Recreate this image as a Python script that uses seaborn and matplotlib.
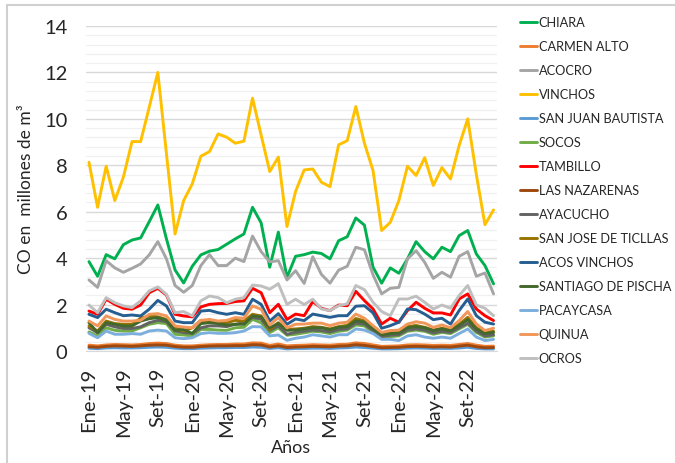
import numpy as np
import pandas as pd
import seaborn as sns
import matplotlib.pyplot as plt
from matplotlib.ticker import MultipleLocator
from matplotlib.patches import Rectangle

# --- months (Ene-19 .. Dic-22)
meses = ['Ene', 'Feb', 'Mar', 'Abr', 'May', 'Jun', 'Jul', 'Ago', 'Set', 'Oct', 'Nov', 'Dic']
periodos = [f'{m}-{a}' for a in ['19', '20', '21', '22'] for m in meses]

# --- CO series (millones de m3)
chiara = [3.85, 3.22, 4.15, 3.97, 4.58, 4.78, 4.87, 5.57, 6.29, 4.83, 3.49, 2.93,
          3.65, 4.14, 4.30, 4.37, 4.60, 4.83, 5.04, 6.19, 5.52, 3.61, 5.12, 3.17,
          4.08, 4.15, 4.26, 4.20, 3.97, 4.75, 4.92, 5.73, 5.42, 3.61, 2.92, 3.58,
          3.35, 3.97, 4.71, 4.28, 3.97, 4.47, 4.28, 4.97, 5.19, 4.18, 3.68, 2.89]
acocro = [3.06, 2.74, 3.89, 3.58, 3.39, 3.56, 3.75, 4.14, 4.71, 3.97, 2.82, 2.53,
          2.82, 3.68, 4.15, 3.68, 3.68, 4.00, 3.85, 4.95, 4.28, 3.84, 3.89, 3.06,
          3.46, 2.91, 4.06, 3.30, 2.92, 3.48, 3.65, 4.47, 4.36, 3.28, 2.46, 2.70,
          2.74, 3.97, 4.32, 3.82, 3.13, 3.39, 3.18, 4.08, 4.28, 3.22, 3.36, 2.46]
vinchos = [8.13, 6.19, 7.96, 6.48, 7.49, 9.02, 9.02, 10.5, 12.0, 8.50, 5.04, 6.48,
           7.20, 8.39, 8.59, 9.35, 9.21, 8.95, 9.04, 10.89, 9.30, 7.73, 8.35, 5.36,
           6.87, 7.80, 7.84, 7.27, 7.08, 8.88, 9.06, 10.53, 8.95, 7.77, 5.19, 5.54,
           6.48, 7.96, 7.56, 8.33, 7.13, 7.90, 7.41, 8.85, 10.0, 7.60, 5.44, 6.08]
tambillo = [1.72, 1.58, 2.23, 2.01, 1.84, 1.80, 1.98, 2.51, 2.70, 2.41, 1.58, 1.51,
            1.47, 1.90, 2.01, 2.04, 2.05, 2.13, 2.16, 2.70, 2.51, 1.65, 2.01, 1.36,
            1.59, 1.52, 2.13, 1.84, 1.74, 1.98, 1.95, 2.57, 2.17, 1.81, 1.16, 1.41,
            1.24, 1.74, 2.10, 1.84, 1.64, 1.64, 1.55, 2.24, 2.46, 1.81, 1.52, 1.31]
acos_vinchos = [1.58, 1.44, 1.80, 1.65, 1.52, 1.55, 1.51, 1.80, 2.18, 1.94, 1.29, 1.22,
                1.22, 1.72, 1.75, 1.65, 1.58, 1.65, 1.58, 2.23, 2.01, 1.29, 1.61, 1.15,
                1.38, 1.31, 1.59, 1.52, 1.45, 1.52, 1.52, 1.93, 1.95, 1.64, 0.98, 1.09,
                1.24, 1.81, 1.78, 1.59, 1.35, 1.41, 1.16, 1.74, 2.24, 1.52, 1.24, 1.16]
ocros = [1.98, 1.65, 2.30, 2.08, 1.94, 1.87, 2.16, 2.59, 2.76, 2.44, 1.65, 1.70,
         1.51, 2.16, 2.37, 2.30, 2.08, 2.23, 2.30, 2.84, 2.80, 2.66, 2.90, 2.01,
         2.23, 2.00, 2.23, 1.81, 1.74, 1.95, 2.03, 2.82, 2.64, 2.10, 1.70, 1.52,
         2.24, 2.24, 2.36, 2.10, 1.81, 1.98, 1.84, 2.39, 2.82, 1.98, 1.84, 1.52]
quinua = [1.29, 1.08, 1.51, 1.36, 1.29, 1.29, 1.32, 1.58, 1.61, 1.51, 1.08, 1.03,
          1.00, 1.32, 1.36, 1.29, 1.32, 1.44, 1.41, 1.94, 1.80, 1.12, 1.44, 1.00,
          1.15, 1.16, 1.20, 1.20, 1.09, 1.20, 1.24, 1.59, 1.41, 1.09, 0.80, 0.88,
          0.90, 1.16, 1.26, 1.20, 1.02, 1.12, 1.00, 1.31, 1.70, 1.16, 0.88, 0.98]
san_jose = [1.08, 0.86, 1.29, 1.18, 1.15, 1.15, 1.41, 1.51, 1.47, 1.36, 1.00, 0.86,
            1.00, 1.32, 1.26, 1.25, 1.22, 1.32, 1.29, 1.58, 1.51, 0.93, 1.22, 0.93,
            0.95, 0.98, 1.05, 1.02, 0.95, 1.05, 1.10, 1.40, 1.30, 1.00, 0.75, 0.80,
            0.80, 1.05, 1.10, 1.02, 0.90, 0.98, 0.92, 1.15, 1.45, 1.00, 0.80, 0.85]
santiago = [1.22, 0.79, 1.22, 1.15, 1.08, 1.08, 1.29, 1.39, 1.44, 1.32, 0.89, 0.93,
            0.75, 1.18, 1.22, 1.18, 1.12, 1.15, 1.15, 1.51, 1.47, 1.00, 1.18, 0.89,
            0.90, 0.95, 1.00, 1.00, 0.92, 1.02, 1.05, 1.30, 1.25, 0.95, 0.70, 0.75,
            0.78, 1.00, 1.05, 1.00, 0.88, 0.95, 0.88, 1.10, 1.35, 0.95, 0.75, 0.80]
ayacucho = [1.00, 0.79, 1.15, 1.04, 0.97, 0.97, 1.04, 1.22, 1.32, 1.26, 0.86, 0.79,
            0.76, 1.00, 1.08, 1.08, 1.05, 1.15, 1.22, 1.44, 1.37, 0.89, 1.08, 0.72,
            0.80, 0.85, 0.90, 0.88, 0.82, 0.92, 0.95, 1.20, 1.15, 0.88, 0.62, 0.68,
            0.70, 0.90, 0.95, 0.90, 0.78, 0.85, 0.80, 1.00, 1.20, 0.85, 0.65, 0.70]
socos = [0.82, 0.65, 1.00, 0.89, 0.86, 0.86, 1.00, 1.15, 1.22, 1.18, 0.72, 0.69,
         0.65, 0.93, 0.93, 0.90, 0.89, 1.00, 1.02, 1.36, 1.22, 0.79, 1.00, 0.68,
         0.72, 0.78, 0.85, 0.82, 0.75, 0.85, 0.90, 1.12, 1.08, 0.80, 0.58, 0.62,
         0.65, 0.85, 0.90, 0.85, 0.72, 0.80, 0.75, 0.95, 1.15, 0.80, 0.60, 0.65]
pacaycasa = [0.76, 0.57, 0.86, 0.72, 0.72, 0.75, 0.72, 0.86, 0.90, 0.86, 0.57, 0.53,
             0.57, 0.75, 0.79, 0.76, 0.76, 0.79, 0.86, 1.05, 1.04, 0.65, 0.69, 0.46,
             0.55, 0.60, 0.70, 0.65, 0.60, 0.70, 0.70, 0.95, 0.90, 0.75, 0.50, 0.50,
             0.45, 0.65, 0.70, 0.60, 0.55, 0.60, 0.55, 0.75, 0.95, 0.60, 0.45, 0.50]
carmen_alto = [0.25, 0.22, 0.26, 0.28, 0.27, 0.26, 0.28, 0.32, 0.34, 0.32, 0.25, 0.22,
               0.22, 0.25, 0.27, 0.28, 0.28, 0.30, 0.30, 0.35, 0.34, 0.24, 0.30, 0.22,
               0.24, 0.25, 0.27, 0.26, 0.25, 0.28, 0.29, 0.35, 0.32, 0.26, 0.20, 0.21,
               0.22, 0.26, 0.27, 0.26, 0.24, 0.25, 0.24, 0.28, 0.32, 0.25, 0.20, 0.21]
nazarenas = [0.18, 0.16, 0.20, 0.22, 0.21, 0.20, 0.22, 0.25, 0.26, 0.25, 0.19, 0.16,
             0.16, 0.19, 0.21, 0.22, 0.22, 0.23, 0.23, 0.27, 0.26, 0.17, 0.22, 0.15,
             0.17, 0.18, 0.20, 0.19, 0.18, 0.21, 0.22, 0.27, 0.24, 0.19, 0.14, 0.15,
             0.16, 0.19, 0.20, 0.19, 0.17, 0.18, 0.17, 0.21, 0.25, 0.18, 0.14, 0.15]
san_juan = [0.12, 0.10, 0.13, 0.14, 0.13, 0.13, 0.14, 0.16, 0.17, 0.16, 0.12, 0.10,
            0.10, 0.12, 0.13, 0.14, 0.14, 0.15, 0.15, 0.17, 0.16, 0.11, 0.14, 0.09,
            0.11, 0.11, 0.12, 0.12, 0.11, 0.13, 0.14, 0.17, 0.15, 0.12, 0.09, 0.09,
            0.10, 0.12, 0.13, 0.12, 0.11, 0.11, 0.11, 0.13, 0.16, 0.11, 0.09, 0.09]

distritos = ['CHIARA', 'CARMEN ALTO', 'ACOCRO', 'VINCHOS', 'SAN JUAN BAUTISTA', 'SOCOS',
             'TAMBILLO', 'LAS NAZARENAS', 'AYACUCHO', 'SAN JOSE DE TICLLAS',
             'ACOS VINCHOS', 'SANTIAGO DE PISCHA', 'PACAYCASA', 'QUINUA', 'OCROS']
valores = [chiara, carmen_alto, acocro, vinchos, san_juan, socos, tambillo, nazarenas,
           ayacucho, san_jose, acos_vinchos, santiago, pacaycasa, quinua, ocros]
colores = ['#00B050', '#ED7D31', '#A5A5A5', '#FFC000', '#5B9BD5', '#70AD47', '#FF0000',
           '#9E480E', '#636363', '#997300', '#255E91', '#43682B', '#7CAFDD', '#F1975A',
           '#BFBFBF']

df = pd.DataFrame({
    'mes': np.tile(np.arange(len(periodos)), len(distritos)),
    'distrito': np.repeat(distritos, len(periodos)),
    'co': np.concatenate(valores),
})

sns.set_style('white')
plt.rcParams['font.family'] = ['Lato', 'DejaVu Sans']
txt = '#262626'

fig = plt.figure(figsize=(6.75, 4.64), dpi=100)
ax = fig.add_axes([0.1267, 0.2414, 0.6096, 0.7004])

sns.lineplot(data=df, x='mes', y='co', hue='distrito', hue_order=distritos,
             palette=dict(zip(distritos, colores)), linewidth=2.1, ax=ax, sort=False)

ax.set_xlim(-0.4, 47.4)
ax.set_ylim(0, 14)
ax.yaxis.set_major_locator(MultipleLocator(2))
ax.yaxis.set_minor_locator(MultipleLocator(0.4))
ax.grid(axis='y', which='major', color='#D9D9D9', linewidth=1.0)
ax.grid(axis='y', which='minor', color='#F0F0F0', linewidth=0.9)
ax.set_axisbelow(True)
for s in ['top', 'right', 'left']:
    ax.spines[s].set_visible(False)
ax.spines['bottom'].set_color('#D9D9D9')

ticks = list(range(0, len(periodos), 4))
ax.set_xticks(ticks)
ax.set_xticklabels([periodos[i] for i in ticks], rotation=90, fontsize=14.5, color=txt)
ax.tick_params(axis='x', length=0, pad=11)
ax.tick_params(axis='y', which='both', length=0, pad=13, labelsize=14.5, labelcolor=txt)

ax.set_xlabel('Años', fontsize=13, color=txt, labelpad=2)
ax.set_ylabel('CO en  millones de m³', fontsize=12.5, color=txt, labelpad=7)

h, l = ax.get_legend_handles_labels()
ax.legend(h, l, loc='upper left', bbox_to_anchor=(520 / 675, 1 - 17 / 464),
          bbox_transform=fig.transFigure, frameon=False, fontsize=9.2,
          handlelength=1.35, handletextpad=0.1, labelspacing=0.94, borderpad=0,
          borderaxespad=0, labelcolor=txt)

fig.patches.append(Rectangle((7 / 675, -0.01), 1.1, 1 - 6 / 464 + 0.01, transform=fig.transFigure,
                             fill=False, edgecolor='#D0D0D0', linewidth=1.5))

fig.savefig('out.png', dpi=100)
